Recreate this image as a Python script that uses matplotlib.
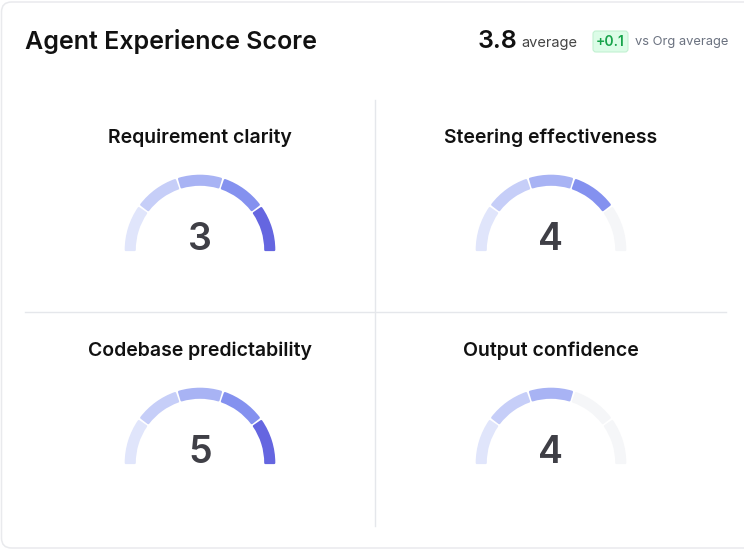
import matplotlib

matplotlib.use("Agg")
import matplotlib.pyplot as plt
from matplotlib.patches import Wedge, FancyBboxPatch

plt.rcParams["font.family"] = ["Inter", "DejaVu Sans"]

# data
title = "Agent Experience Score"
overall_score = 3.8
delta_vs_org = "+0.1"
metrics = ["Requirement clarity", "Steering effectiveness",
           "Codebase predictability", "Output confidence"]
scores = [3, 4, 5, 4]
lit_segments = [5, 4, 5, 3]
segment_colors = ["#e0e5fb", "#c6cef8", "#a8b3f4", "#8491ef", "#6566e0"]
empty_color = "#f5f6f8"

W, H = 744, 550
fig = plt.figure(figsize=(W / 100, H / 100), dpi=100)
ax = fig.add_axes([0, 0, 1, 1])
ax.set_xlim(0, W)
ax.set_ylim(0, H)
ax.axis("off")


def Y(y):
    # image rows (top = 0) -> axis coords
    return H - y


# card
ax.add_patch(FancyBboxPatch((1.5, Y(548)), W + 20, 546, boxstyle="round,pad=0,rounding_size=10",
                            fc="white", ec="#e9eaed", lw=1.1))

# header
ax.text(25, Y(42), title, fontsize=18, fontweight="semibold", color="#111111", va="center")
ax.text(517, Y(42), f"{overall_score}", fontsize=18, fontweight="semibold", color="#111111",
        va="center", ha="right")
ax.text(521, Y(43), "average", fontsize=10.5, color="#444444", va="center")
ax.add_patch(FancyBboxPatch((593, Y(52)), 35, 21, boxstyle="round,pad=0,rounding_size=3",
                            fc="#dcfce7", ec="#c2f1d2", lw=0.8))
ax.text(610.5, Y(41.5), delta_vs_org, fontsize=10, fontweight="semibold", color="#16a34a",
        va="center", ha="center")
ax.text(635, Y(42.5), "vs Org average", fontsize=9.3, color="#6b7280", va="center")

# dividers
ax.plot([375, 375], [Y(100), Y(526)], color="#e5e7eb", lw=1)
ax.plot([25, 726], [Y(312), Y(312)], color="#e5e7eb", lw=1)

centers = [(200, 250), (551, 250), (200, 463), (551, 463)]
r_out, width = 75, 10.5
seg = 180 / len(segment_colors)
gap = 3.2

for name, score, lit, (cx, cy) in zip(metrics, scores, lit_segments, centers):
    ax.text(cx, Y(cy - 112), name, fontsize=14, fontweight="semibold", color="#111111",
            ha="center", va="center")
    for i, col in enumerate(segment_colors):
        t2 = 180 - i * seg - gap / 2
        t1 = 180 - (i + 1) * seg + gap / 2
        if i == 0:
            t2 = 180
        if i == len(segment_colors) - 1:
            t1 = 0
        c = col if i < lit else empty_color
        ax.add_patch(Wedge((cx, Y(cy)), r_out - 0.8, t1, t2, width=width - 1.6,
                           fc=c, ec=c, lw=1.6, joinstyle="round"))
    ax.text(cx, Y(cy - 10), str(score), fontsize=27, fontweight="semibold", color="#3f3f46",
            ha="center", va="center")

fig.savefig("out.png", dpi=100)
